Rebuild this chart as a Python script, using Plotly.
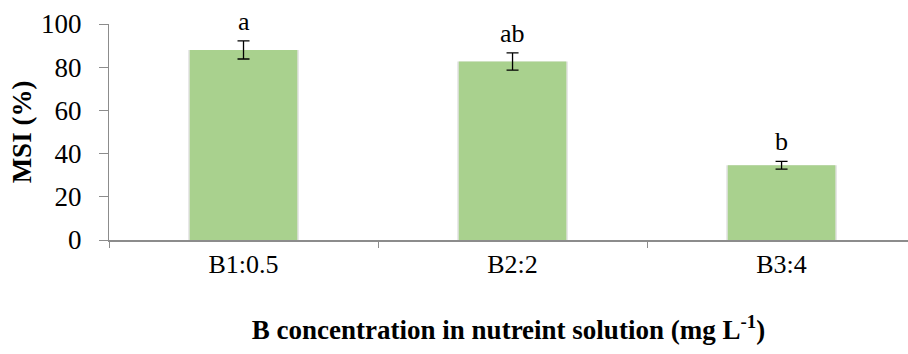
import plotly.graph_objects as go

# Membrane stability index by boron level
categories = ["B1:0.5", "B2:2", "B3:4"]
msi_mean = [88.0, 82.6, 34.6]
msi_se = [4.2, 4.0, 1.8]
letters = ["a", "ab", "b"]

FONT = "Liberation Serif, Times New Roman, serif"
BAR_COLOR = "#A9D18E"
AXIS_COLOR = "#8C8C8C"

fig = go.Figure()

# soft drop shadow behind the bars
fig.add_trace(go.Bar(
    x=categories, y=msi_mean,
    width=0.412, offset=-0.206,
    marker=dict(color="rgba(0,0,0,0.10)", line=dict(width=0)),
    hoverinfo="skip", showlegend=False,
))

fig.add_trace(go.Bar(
    x=categories, y=msi_mean,
    width=0.4, offset=-0.2,
    marker=dict(color=BAR_COLOR, line=dict(width=0)),
    error_y=dict(type="data", array=msi_se, visible=True,
                 color="black", thickness=1.3, width=6),
    showlegend=False,
))

for cat, m, e, lab in zip(categories, msi_mean, msi_se, letters):
    fig.add_annotation(
        x=cat, y=m + e, text=lab, showarrow=False,
        yanchor="bottom", yshift=3,
        font=dict(family=FONT, size=26, color="black"),
    )

fig.update_layout(
    width=908, height=354,
    margin=dict(l=109, r=0, t=24, b=114),
    paper_bgcolor="white", plot_bgcolor="white",
    barmode="overlay",
    font=dict(family=FONT, size=26, color="black"),
    xaxis=dict(
        range=[-0.5, 2.47],
        showline=True, linecolor=AXIS_COLOR, linewidth=1.8,
        ticks="outside", tickson="boundaries", ticklen=6,
        tickcolor=AXIS_COLOR, tickwidth=1,
        showgrid=False, zeroline=False,
        tickfont=dict(family=FONT, size=26),
        title=dict(
            text="<b>B concentration in nutreint solution (mg L<sup>-1</sup>)</b>",
            font=dict(family=FONT, size=27), standoff=42,
        ),
    ),
    yaxis=dict(
        range=[0, 100], tickvals=[0, 20, 40, 60, 80, 100],
        showline=True, linecolor=AXIS_COLOR, linewidth=1,
        ticks="outside", ticklen=9, tickcolor=AXIS_COLOR,
        showgrid=False, zeroline=False,
        tickfont=dict(family=FONT, size=27),
        ticklabelstandoff=12,
        title=dict(text="<b>MSI (%)</b>", font=dict(family=FONT, size=27),
                   standoff=1),
    ),
)

fig.write_html("out.html")
